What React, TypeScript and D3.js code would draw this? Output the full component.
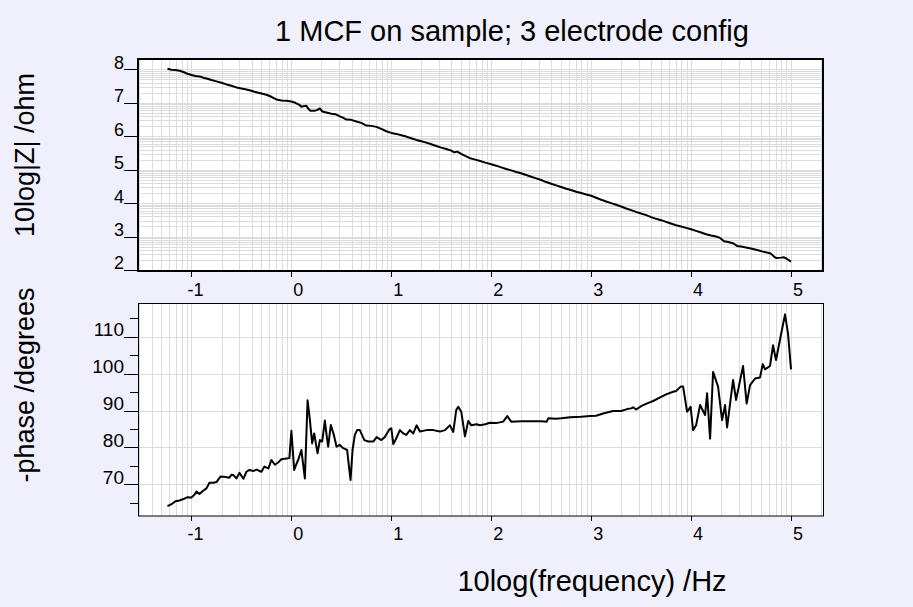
import React from "react";
import * as d3 from "d3";

// ---- Data ----
const freqZ = [
  -1.24, -1.2, -1.16, -1.12, -1.08, -1.04, -1.0, -0.96, -0.92, -0.88, -0.84, -0.8, -0.75, -0.7, -0.65, -0.6,
  -0.55, -0.5, -0.45, -0.41, -0.37, -0.33, -0.29, -0.25, -0.2, -0.15, -0.1, -0.05, 0.0, 0.04, 0.08, 0.1,
  0.12, 0.15, 0.17, 0.19, 0.23, 0.26, 0.285, 0.31, 0.35, 0.4, 0.44, 0.48, 0.52, 0.55, 0.6, 0.65,
  0.7, 0.75, 0.8, 0.85, 0.9, 0.95, 1.0, 1.05, 1.1, 1.15, 1.2, 1.25, 1.3, 1.35, 1.4, 1.45,
  1.5, 1.55, 1.6, 1.63, 1.66, 1.7, 1.75, 1.79, 1.84, 1.89, 1.94, 2.0, 2.05, 2.1, 2.15, 2.2,
  2.25, 2.29, 2.35, 2.4, 2.45, 2.5, 2.55, 2.6, 2.65, 2.7, 2.75, 2.79, 2.85, 2.9, 2.95, 3.0,
  3.05, 3.1, 3.15, 3.2, 3.25, 3.3, 3.35, 3.4, 3.455, 3.5, 3.55, 3.6, 3.65, 3.7, 3.75, 3.79,
  3.85, 3.9, 3.95, 4.0, 4.05, 4.1, 4.15, 4.2, 4.25, 4.29, 4.33, 4.37, 4.42, 4.46, 4.5, 4.55,
  4.6, 4.66, 4.72, 4.79, 4.81, 4.83, 4.85, 4.9, 4.93, 4.96, 5.0,
];
const logZ = [
  8.02, 7.99, 7.98, 7.96, 7.92, 7.87, 7.83, 7.8, 7.79, 7.75, 7.72, 7.68, 7.64, 7.6, 7.55, 7.51,
  7.46, 7.43, 7.4, 7.37, 7.33, 7.3, 7.27, 7.24, 7.18, 7.1, 7.07, 7.06, 7.04, 7.0, 6.94, 6.88,
  6.9, 6.91, 6.82, 6.76, 6.76, 6.79, 6.83, 6.74, 6.71, 6.67, 6.66, 6.6, 6.55, 6.5, 6.49, 6.44,
  6.4, 6.32, 6.31, 6.28, 6.22, 6.15, 6.1, 6.07, 6.03, 5.99, 5.94, 5.89, 5.85, 5.81, 5.76, 5.71,
  5.66, 5.62, 5.57, 5.52, 5.54, 5.47, 5.4, 5.34, 5.3, 5.26, 5.21, 5.16, 5.12, 5.07, 5.02, 4.98,
  4.93, 4.9, 4.84, 4.79, 4.74, 4.69, 4.63, 4.58, 4.53, 4.48, 4.43, 4.4, 4.34, 4.3, 4.26, 4.22,
  4.16, 4.1, 4.05, 4.0, 3.95, 3.9, 3.84, 3.79, 3.73, 3.69, 3.64, 3.58, 3.53, 3.49, 3.44, 3.4,
  3.34, 3.3, 3.26, 3.22, 3.17, 3.12, 3.07, 3.03, 3.0, 2.96, 2.86, 2.84, 2.8, 2.72, 2.7, 2.67,
  2.64, 2.6, 2.55, 2.5, 2.46, 2.4, 2.36, 2.37, 2.38, 2.33, 2.25,
];

const freqP = [
  -1.24, -1.2, -1.16, -1.12, -1.08, -1.04, -1.0, -0.97, -0.95, -0.92, -0.88, -0.85, -0.82, -0.78, -0.75, -0.71,
  -0.66, -0.62, -0.6, -0.58, -0.55, -0.52, -0.48, -0.45, -0.42, -0.38, -0.35, -0.3, -0.27, -0.23, -0.2, -0.165,
  -0.13, -0.1, -0.05, -0.02, 0.0, 0.028, 0.05, 0.068, 0.1, 0.135, 0.162, 0.185, 0.208, 0.228, 0.262, 0.285,
  0.308, 0.335, 0.352, 0.368, 0.395, 0.425, 0.452, 0.485, 0.518, 0.558, 0.578, 0.592, 0.612, 0.635, 0.658, 0.685,
  0.73, 0.77, 0.82, 0.853, 0.9, 0.935, 0.98, 1.0, 1.02, 1.05, 1.086, 1.12, 1.15, 1.186, 1.22, 1.253,
  1.286, 1.353, 1.42, 1.487, 1.537, 1.587, 1.62, 1.65, 1.67, 1.7, 1.737, 1.77, 1.8, 1.853, 1.887, 1.94,
  1.987, 2.05, 2.12, 2.16, 2.2, 2.3, 2.4, 2.5, 2.555, 2.57, 2.65, 2.7, 2.79, 2.9, 2.99, 3.05,
  3.12, 3.22, 3.3, 3.36, 3.4, 3.42, 3.45, 3.5, 3.555, 3.62, 3.69, 3.75, 3.82, 3.85, 3.896, 3.92,
  3.96, 3.995, 4.02, 4.05, 4.09, 4.14, 4.16, 4.19, 4.22, 4.27, 4.31, 4.34, 4.36, 4.42, 4.45, 4.52,
  4.556, 4.59, 4.64, 4.69, 4.717, 4.74, 4.79, 4.82, 4.85, 4.89, 4.94, 4.97, 5.0,
];
const phase = [
  64.1, 64.6, 65.4, 65.6, 66.0, 66.5, 66.4, 67.2, 68.0, 67.4, 68.3, 68.9, 70.4, 70.4, 70.6, 72.1,
  72.0, 71.8, 72.6, 72.5, 71.6, 73.1, 71.5, 73.4, 73.9, 73.6, 74.0, 73.4, 74.8, 74.3, 76.6, 75.3,
  76.0, 76.8, 77.0, 77.1, 84.5, 73.9, 75.5, 76.6, 79.3, 71.6, 92.8, 87.5, 81.1, 83.8, 78.4, 82.0,
  81.6, 87.3, 83.4, 80.2, 86.1, 83.4, 80.2, 80.7, 79.8, 79.3, 74.4, 71.2, 79.3, 83.4, 84.7, 84.7,
  82.0, 81.6, 81.6, 82.8, 82.0, 82.8, 84.9, 85.2, 80.9, 82.5, 84.7, 83.8, 83.4, 84.7, 83.8, 86.0,
  84.3, 84.7, 84.7, 84.3, 84.7, 86.0, 84.2, 90.2, 91.0, 89.7, 83.0, 87.2, 86.0, 86.3, 86.0, 86.3,
  86.7, 86.6, 87.0, 88.5, 87.0, 87.1, 87.1, 87.1, 87.0, 87.9, 87.8, 87.9, 88.2, 88.3, 88.5, 88.6,
  89.2, 89.9, 89.9, 90.4, 90.6, 90.9, 90.3, 91.2, 91.9, 92.6, 93.6, 94.4, 95.1, 95.3, 96.5, 96.5,
  89.7, 91.0, 84.7, 86.0, 91.5, 88.8, 94.7, 82.4, 100.5, 96.5, 87.4, 91.5, 85.4, 98.3, 92.9, 102.1,
  91.9, 96.9, 98.7, 99.0, 102.6, 101.2, 102.1, 107.7, 103.7, 109.3, 116.1, 110.9, 101.2,
];

const xTicks = [-1, 0, 1, 2, 3, 4, 5];
const zTicks = [2, 3, 4, 5, 6, 7, 8];
const phaseTicks = [70, 80, 90, 100, 110];
const phaseMinorTicks = [65, 75, 85, 95, 105, 115];

const titleText = "1 MCF on sample; 3 electrode config";
const xLabelText = "10log(frequency) /Hz";
const zLabelText = "10log|Z| /ohm";
const phaseLabelText = "-phase /degrees";

// ---- Layout ----
const W = 913;
const H = 607;
const FONT = "'Liberation Sans', Arial, Helvetica, sans-serif";
const BG = "#f0f0fc";
const GRID = "#dcdcdc";

const left = 138;
const right = 823;
const top1 = 59;
const bottom1 = 271;
const top2 = 303.5;
const bottom2 = 516;

const x = d3.scaleLinear().domain([-1.535, 5.32]).range([left, right]);
const yZ = d3.scaleLinear().domain([1.97, 8.31]).range([bottom1, top1]);
const yP = d3.scaleLinear().domain([61.4, 119.05]).range([bottom2, top2]);

function logGrid(lo: number, hi: number, d0: number, d1: number) {
  const out: number[] = [];
  for (let n = Math.floor(lo) - 1; n <= Math.ceil(hi); n++) {
    for (let k = 1; k <= 9; k++) {
      const v = n + Math.log10(k);
      const p = d0 < d1 ? v : v;
      if (p > Math.min(lo, hi) && p < Math.max(lo, hi)) out.push(p);
    }
  }
  return out;
}

export default function App() {
  const xd = x.domain();
  const vGrid = logGrid(xd[0], xd[1], 0, 1);
  const zd = yZ.domain();
  const hGridZ = logGrid(zd[0], zd[1], 0, 1);

  const lineZ = d3
    .line<number>()
    .x((_, i) => x(freqZ[i]))
    .y((d) => yZ(d));
  const lineP = d3
    .line<number>()
    .x((_, i) => x(freqP[i]))
    .y((d) => yP(d));

  return (
    <svg
      width={W}
      height={H}
      style={{ position: "absolute", left: 0, top: 0, display: "block" }}
      fontFamily={FONT}
    >
      <defs>
        <clipPath id="clipTop">
          <rect x={left} y={top1} width={right - left} height={bottom1 - top1} />
        </clipPath>
        <clipPath id="clipBot">
          <rect x={left} y={top2} width={right - left} height={bottom2 - top2} />
        </clipPath>
      </defs>
      <rect x={0} y={0} width={W} height={H} fill={BG} />

      {/* Title */}
      <text x={512} y={41} textAnchor="middle" fontSize={29} fill="#000">
        {titleText}
      </text>

      {/* ===== Top panel ===== */}
      <rect x={left} y={top1} width={right - left} height={bottom1 - top1} fill="#fff" />
      <g clipPath="url(#clipTop)" stroke={GRID} strokeWidth={1}>
        {vGrid.map((v, i) => (
          <line key={"vt" + i} x1={Math.round(x(v)) + 0.5} x2={Math.round(x(v)) + 0.5} y1={top1} y2={bottom1} />
        ))}
        {hGridZ.map((v, i) => (
          <line key={"ht" + i} x1={left} x2={right} y1={Math.round(yZ(v)) + 0.5} y2={Math.round(yZ(v)) + 0.5} />
        ))}
      </g>
      <path
        d={lineZ(logZ) || ""}
        fill="none"
        stroke="#000"
        strokeWidth={2}
        strokeLinejoin="round"
        clipPath="url(#clipTop)"
      />
      <rect x={left} y={top1} width={right - left} height={bottom1 - top1} fill="none" stroke="#000" strokeWidth={2} />
      {zTicks.map((t) => (
        <g key={"zt" + t}>
          <line x1={left - 14} x2={left} y1={Math.round(yZ(t)) + 0.5} y2={Math.round(yZ(t)) + 0.5} stroke="#000" strokeWidth={1} />
          <text x={left - 14} y={yZ(t) - 0.5} textAnchor="end" fontSize={18} fill="#000">
            {t}
          </text>
        </g>
      ))}
      {xTicks.map((t) => (
        <g key={"xt1" + t}>
          <line x1={Math.round(x(t)) + 0.5} x2={Math.round(x(t)) + 0.5} y1={bottom1} y2={bottom1 + 6} stroke="#000" strokeWidth={1} />
          <text x={x(t) + 12} y={296} textAnchor="end" fontSize={18} fill="#000">
            {t}
          </text>
        </g>
      ))}
      <text
        transform={`translate(34,155) rotate(-90)`}
        textAnchor="middle"
        fontSize={27}
        fill="#000"
      >
        {zLabelText}
      </text>

      {/* ===== Bottom panel ===== */}
      <rect x={left} y={top2} width={right - left} height={bottom2 - top2} fill="#fff" />
      <g clipPath="url(#clipBot)" stroke={GRID} strokeWidth={1}>
        {vGrid.map((v, i) => (
          <line key={"vb" + i} x1={Math.round(x(v)) + 0.5} x2={Math.round(x(v)) + 0.5} y1={top2} y2={bottom2} />
        ))}
        {phaseTicks.map((v, i) => (
          <line key={"hb" + i} x1={left} x2={right} y1={Math.round(yP(v)) + 0.5} y2={Math.round(yP(v)) + 0.5} />
        ))}
      </g>
      <path
        d={lineP(phase) || ""}
        fill="none"
        stroke="#000"
        strokeWidth={2}
        strokeLinejoin="round"
        clipPath="url(#clipBot)"
      />
      <rect x={left + 0.5} y={top2} width={right - left} height={bottom2 - top2} fill="none" stroke="#000" strokeWidth={1} />
      {phaseTicks.map((t) => (
        <g key={"pt" + t}>
          <line x1={left - 14} x2={left} y1={Math.round(yP(t)) + 0.5} y2={Math.round(yP(t)) + 0.5} stroke="#000" strokeWidth={1} />
          <text x={left - 14} y={yP(t) - 0.5} textAnchor="end" fontSize={19} fill="#000">
            {t}
          </text>
        </g>
      ))}
      {phaseMinorTicks.map((t) => (
        <line key={"pm" + t} x1={left - 8} x2={left} y1={Math.round(yP(t)) + 0.5} y2={Math.round(yP(t)) + 0.5} stroke="#000" strokeWidth={1} />
      ))}
      {xTicks.map((t) => (
        <g key={"xt2" + t}>
          <line x1={Math.round(x(t)) + 0.5} x2={Math.round(x(t)) + 0.5} y1={bottom2} y2={bottom2 + 5} stroke="#000" strokeWidth={1} />
          <text x={x(t) + 12} y={540} textAnchor="end" fontSize={18} fill="#000">
            {t}
          </text>
        </g>
      ))}
      <text
        transform={`translate(34,385) rotate(-90)`}
        textAnchor="middle"
        fontSize={27}
        fill="#000"
      >
        {phaseLabelText}
      </text>

      {/* X axis title */}
      <text x={592} y={591} textAnchor="middle" fontSize={29} fill="#000">
        {xLabelText}
      </text>
    </svg>
  );
}
